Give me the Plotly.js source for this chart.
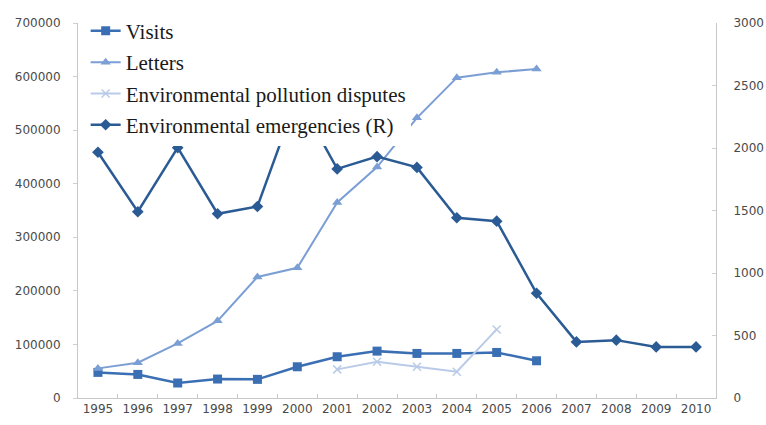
<!DOCTYPE html>
<html>
<head>
<meta charset="utf-8">
<script src="https://cdn.plot.ly/plotly-3.0.1.min.js"></script>
<style>html,body{margin:0;padding:0;background:#fff}#chart{width:766px;height:425px}</style>
</head>
<body>
<div id="chart"></div>
<script>
const years = ["1995","1996","1997","1998","1999","2000","2001","2002","2003","2004","2005","2006","2007","2008","2009","2010"];
const visitYears = years.slice(0, 12);
const visits = [47800, 44000, 28000, 35400, 34800, 58300, 77000, 87500, 83200, 83200, 85000, 69500];
const letters = [55300, 65800, 101900, 144000, 226000, 243000, 365000, 431000, 523000, 598000, 608000, 614000];
const disputeYears = ["2001","2002","2003","2004","2005"];
const disputes = [53400, 67600, 58300, 49000, 128000];
const emergencies = [1966, 1490, 2003, 1474, 1532, 2411, 1833, 1931, 1845, 1442, 1415, 838, 449, 463, 409, 409];
const leftTicks = [0, 100000, 200000, 300000, 400000, 500000, 600000, 700000];
const rightTicks = [0, 500, 1000, 1500, 2000, 2500, 3000];

const traces = [
  {x: visitYears, y: visits, name: "Visits", type: "scatter", mode: "lines+markers",
   line: {color: "#3b6fb4", width: 2.5}, marker: {symbol: "square", size: 9, color: "#3b6fb4"},
   legendgroup: "a"},
  {x: visitYears, y: letters, name: "Letters", type: "scatter", mode: "lines+markers",
   line: {color: "#7b9fd4", width: 2}, marker: {symbol: "triangle-up", size: 9, color: "#7b9fd4"},
   legendgroup: "b"},
  {x: disputeYears, y: disputes, name: "Environmental pollution disputes", type: "scatter", mode: "lines+markers",
   line: {color: "#b9cbe8", width: 2}, marker: {symbol: "x-thin", size: 8, line: {color: "#b9cbe8", width: 1.5}, color: "#b9cbe8"},
   legendgroup: "c"},
  {x: years, y: emergencies, name: "Environmental emergencies (R)", type: "scatter", mode: "lines+markers", yaxis: "y2",
   line: {color: "#2b5b94", width: 2.5}, marker: {symbol: "diamond", size: 9, color: "#2b5b94"},
   legendgroup: "d"}
];

const tickFont = {family: "DejaVu Sans", size: 12, color: "#4a4a4a"};
const layout = {
  width: 766, height: 425,
  margin: {l: 78, r: 50, t: 22, b: 27},
  paper_bgcolor: "#fff", plot_bgcolor: "#fff",
  showlegend: true,
  legend: {x: 0.012, y: 1.03, xanchor: "left", yanchor: "top", bgcolor: "rgba(255,255,255,1)",
           font: {family: "Liberation Serif", size: 21, color: "#1a1a1a"},
           traceorder: "grouped", tracegroupgap: 1, itemwidth: 30},
  xaxis: {type: "category", range: [-0.5, 15.5], tickson: "boundaries", ticks: "inside", ticklen: 4,
          tickangle: 0, tickcolor: "#c8c8c8", showline: true, linecolor: "#c8c8c8", linewidth: 1,
          showgrid: false, zeroline: false, tickfont: tickFont, fixedrange: true},
  yaxis: {range: [0, 700000], tickvals: leftTicks, ticktext: leftTicks.map(String), ticks: "outside", ticklen: 4,
          tickcolor: "#d0d0d0", showline: true, linecolor: "#c8c8c8", linewidth: 1,
          showgrid: false, zeroline: false, tickfont: tickFont, ticklabelstandoff: 10},
  yaxis2: {range: [0, 3000], tickvals: rightTicks, ticktext: rightTicks.map(String), overlaying: "y", side: "right",
           ticks: "inside", ticklen: 4, tickcolor: "#d0d0d0", showline: true, linecolor: "#c8c8c8", linewidth: 1,
           showgrid: false, zeroline: false, tickfont: tickFont, ticklabelstandoff: 14}
};
Plotly.newPlot("chart", traces, layout, {displayModeBar: false, staticPlot: true});
</script>
</body>
</html>
